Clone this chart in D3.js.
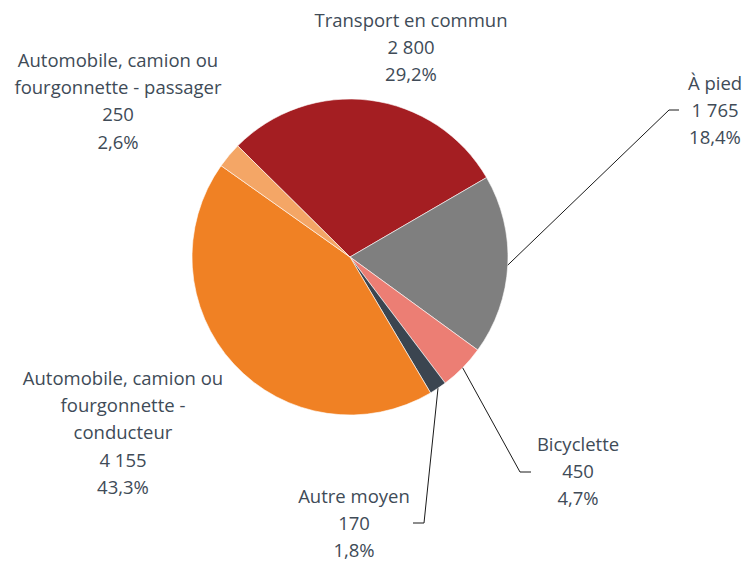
<!DOCTYPE html>
<html><head><meta charset="utf-8">
<script src="https://cdn.jsdelivr.net/npm/d3@7"></script>
<style>body{margin:0;background:#fff}</style>
</head><body>
<svg id="c" width="747" height="561"></svg>
<script>
const categories = ["Transport en commun","À pied","Bicyclette","Autre moyen","Automobile, camion ou fourgonnette - conducteur","Automobile, camion ou fourgonnette - passager"];
const values = [2800,1765,450,170,4155,250];
const percents = ["29,2%","18,4%","4,7%","1,8%","43,3%","2,6%"];
const valueLabels = ["2 800","1 765","450","170","4 155","250"];
const labelLines = [["Transport en commun"],["À pied"],["Bicyclette"],["Autre moyen"],["Automobile, camion ou","fourgonnette -","conducteur"],["Automobile, camion ou","fourgonnette - passager"]];
const colors = ["#a41e22","#7f7f7f","#ec7e74","#3b4550","#f08124","#f4a666"];

const svg = d3.select("#c");
const cx = 350, cy = 257, R = 158;
const start = -45.3*Math.PI/180;
const pie = d3.pie().sort(null).value(d=>d).startAngle(start).endAngle(start+2*Math.PI);
const arcs = pie(values);
const arc = d3.arc().innerRadius(0).outerRadius(R);
const g = svg.append("g").attr("transform",`translate(${cx},${cy})`);
g.selectAll("path").data(arcs).join("path").attr("d",arc).attr("fill",(d,i)=>colors[i]).attr("stroke","#fff").attr("stroke-width",0.6);

// label layout (center x, first baseline)
const layout = [
  {x:411,y:27},
  {x:715,y:90, line:[[669,110],[679,110]]},
  {x:578,y:451, line:[[520,472],[531,472]]},
  {x:354,y:503, line:[[424,523],[413,523]]},
  {x:123,y:385},
  {x:118,y:67}
];
const font = "'Open Sans', sans-serif";
const fs = 18.5, lh = 27.2;
arcs.forEach((a,i)=>{
  const L = layout[i];
  const lines = labelLines[i].concat([valueLabels[i], percents[i]]);
  const t = svg.append("text").attr("font-family",font).attr("font-size",fs).attr("fill","#404b57").attr("text-anchor","middle");
  lines.forEach((s,k)=>t.append("tspan").attr("x",L.x).attr("y",L.y+k*lh).text(s));
  if(L.line){
    const mid=(a.startAngle+a.endAngle)/2;
    const p0=[cx+R*Math.sin(mid), cy-R*Math.cos(mid)];
    svg.append("polyline").attr("points",[p0,L.line[0],L.line[1]].map(p=>p.join(",")).join(" "))
      .attr("fill","none").attr("stroke","#1a1a1a").attr("stroke-width",1);
  }
});
</script>
</body></html>
